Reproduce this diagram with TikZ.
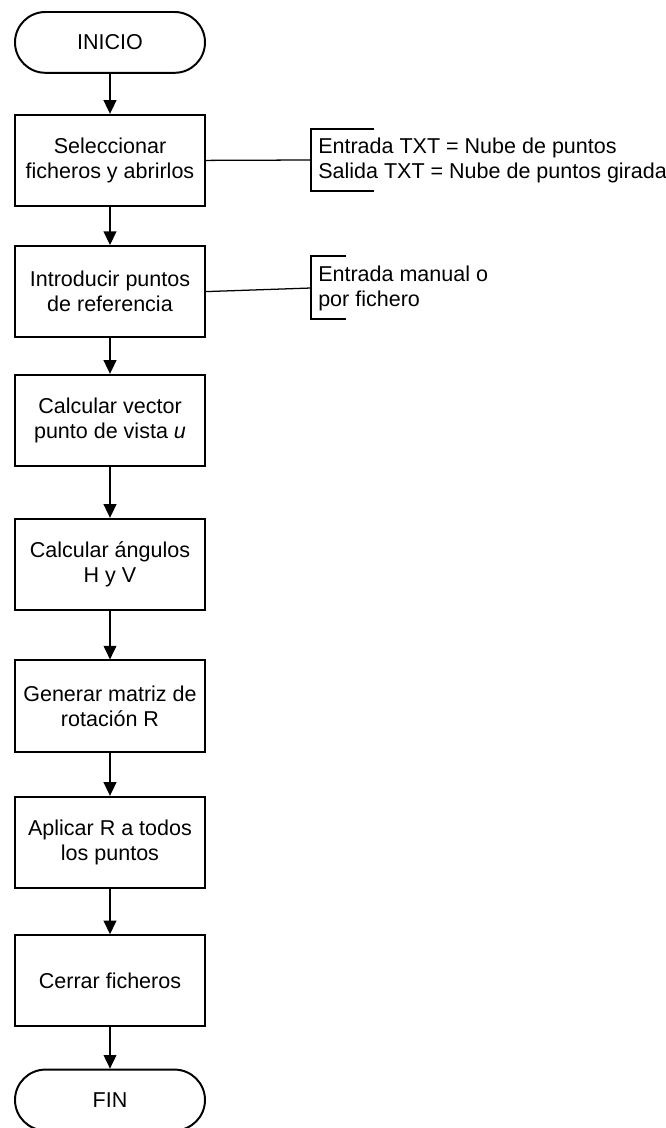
\documentclass[tikz,border=0pt]{standalone}
\usepackage{fontspec}
\setmainfont{Liberation Sans}
\usetikzlibrary{arrows.meta}

\begin{document}
\begin{tikzpicture}[
    font=\fontsize{15.3}{17.8}\selectfont,
    paso/.style={draw, line width=1.4pt, minimum width=4.75cm, minimum height=2.28cm, align=center, inner sep=2pt},
    terminal/.style={draw, line width=1.4pt, rounded corners=0.76cm, minimum width=4.75cm, minimum height=1.52cm},
    flecha/.style={line width=0.9pt, -{Triangle[width=0.32cm,length=0.34cm]}},
    nota/.style={line width=0.9pt},
    notatexto/.style={anchor=west, align=left, inner sep=0pt}
]
    \useasboundingbox (0,0) rectangle (16.625,-28.2);

    % Inicio y fin
    \node[terminal] (inicio) at (2.75,-1.06) {INICIO};
    \node[terminal] (fin) at (2.75,-27.5) {FIN};

    % Pasos del proceso
    \node[paso] (abrir) at (2.75,-4.01) {Seleccionar\\ficheros y abrirlos};
    \node[paso] (puntos) at (2.75,-7.29) {Introducir puntos\\de referencia};
    \node[paso] (vector) at (2.75,-10.51) {Calcular vector\\punto de vista \textit{u}};
    \node[paso] (angulos) at (2.75,-14.11) {Calcular ángulos\\H y V};
    \node[paso] (matriz) at (2.75,-17.65) {Generar matriz de\\rotación R};
    \node[paso] (aplicar) at (2.75,-21.06) {Aplicar R a todos\\los puntos};
    \node[paso] (cerrar) at (2.75,-24.52) {Cerrar ficheros};

    % Flechas
    \draw[flecha] (inicio) -- (abrir);
    \draw[flecha] (abrir) -- (puntos);
    \draw[flecha] (puntos) -- (vector);
    \draw[flecha] (vector) -- (angulos);
    \draw[flecha] (angulos) -- (matriz);
    \draw[flecha] (matriz) -- (aplicar);
    \draw[flecha] (aplicar) -- (cerrar);
    \draw[flecha] (cerrar) -- (fin);

    % Anotacion de ficheros
    \coordinate (nota1) at (7.775,-4.0);
    \draw[nota] (9.35,-3.225) -- (7.775,-3.225) -- (7.775,-4.775) -- (9.35,-4.775);
    \draw[nota] (abrir.east) -- (nota1);
    \node[notatexto] (ficheros) at (7.95,-4.0) {Entrada TXT = Nube de puntos\\Salida TXT = Nube de puntos girada};

    % Anotacion de puntos
    \coordinate (nota2) at (7.775,-7.2);
    \draw[nota] (8.65,-6.4) -- (7.775,-6.4) -- (7.775,-7.975) -- (8.65,-7.975);
    \draw[nota] (puntos.east) -- (nota2);
    \node[notatexto] (entrada) at (7.95,-7.2) {Entrada manual o\\por fichero};
\end{tikzpicture}
\end{document}
